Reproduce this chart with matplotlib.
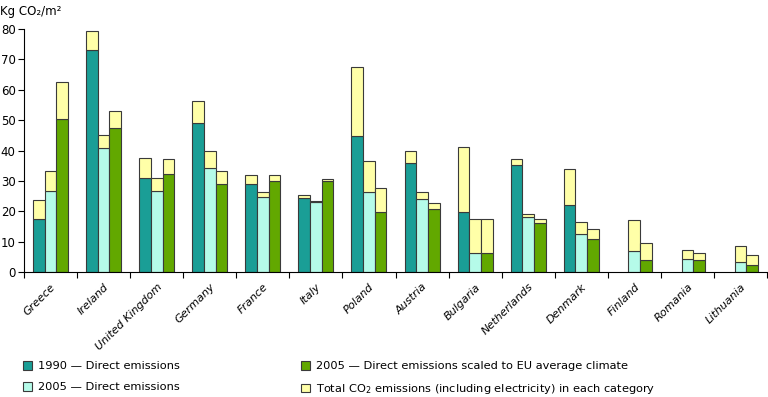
import matplotlib
matplotlib.use('Agg')
import matplotlib.pyplot as plt
import numpy as np
from matplotlib.patches import Patch

countries = ['Greece', 'Ireland', 'United Kingdom', 'Germany', 'France', 'Italy', 'Poland',
             'Austria', 'Bulgaria', 'Netherlands', 'Denmark', 'Finland', 'Romania', 'Lithuania']

nan = np.nan
direct_1990 = [17.6, 73.1, 31.1, 48.9, 29.1, 24.5, 44.8, 35.8, 19.6, 35.1, 22.0, nan, nan, nan]
total_1990 = [23.8, 79.2, 37.4, 56.2, 31.8, 25.2, 67.6, 39.8, 41.0, 37.1, 34.0, nan, nan, nan]
direct_2005 = [26.6, 40.7, 26.6, 34.3, 24.6, 23.2, 26.4, 24.0, 6.4, 18.0, 12.4, 6.8, 4.4, 3.4]
total_2005 = [33.4, 45.2, 30.9, 39.8, 26.4, 23.4, 36.4, 26.2, 17.5, 19.1, 16.5, 17.1, 7.1, 8.7]
scaled_2005 = [50.4, 47.3, 32.1, 28.9, 29.9, 29.9, 19.9, 20.8, 6.4, 16.2, 10.8, 3.8, 3.8, 2.2]
total_scaled = [62.6, 52.9, 37.1, 33.4, 31.8, 30.5, 27.5, 22.6, 17.6, 17.3, 14.1, 9.6, 6.2, 5.6]

legend_labels = ['1990 \u2014 Direct emissions',
                 '2005 \u2014 Direct emissions',
                 '2005 \u2014 Direct emissions scaled to EU average climate',
                 'Total CO$_2$ emissions (including electricity) in each category']

TEAL = '#1a9e96'
CYAN = '#b5fbe9'
GREEN = '#62a800'
YELLOW = '#ffffa8'
EDGE = '#3a3a3a'

fig = plt.figure(figsize=(7.68, 3.97), dpi=100)
ax = fig.add_axes([24 / 768, 1 - 272 / 397, 743 / 768, 243 / 397])

x = np.arange(len(countries))
w = 0.22
series = [(direct_1990, total_1990, TEAL, -w),
          (direct_2005, total_2005, CYAN, 0.0),
          (scaled_2005, total_scaled, GREEN, w)]
for direct, total, col, off in series:
    d = np.array(direct, dtype=float)
    t = np.array(total, dtype=float)
    ax.bar(x + off, d, w, color=col, edgecolor=EDGE, linewidth=0.8)
    ax.bar(x + off, t - d, w, bottom=d, color=YELLOW, edgecolor=EDGE, linewidth=0.8)

ax.set_xlim(-0.5, len(countries) - 0.5)
ax.set_ylim(0, 80)
ax.set_yticks(np.arange(0, 81, 10))
ax.tick_params(axis='y', labelsize=8.5, length=4, width=0.8, pad=2)

ax.set_xticks(x)
ax.set_xticklabels(countries, rotation=45, ha='right', rotation_mode='anchor',
                   fontsize=8, style='italic')
ax.set_xticks(np.arange(-0.5, len(countries), 1), minor=True)
ax.tick_params(axis='x', which='major', length=0, pad=7)
ax.tick_params(axis='x', which='minor', length=4, width=0.8)

for s in ['top', 'right']:
    ax.spines[s].set_visible(False)
for s in ['left', 'bottom']:
    ax.spines[s].set_linewidth(0.8)

fig.text(0, 1 - 12 / 397, 'Kg CO\u2082/m\u00b2', fontsize=8.5, va='center', ha='left')

handles = [Patch(facecolor=c, edgecolor=EDGE, linewidth=0.8) for c in [TEAL, CYAN, GREEN, YELLOW]]
fig.legend(handles, legend_labels, ncol=2, loc='upper left',
           bbox_to_anchor=(23 / 768, 1 - 361 / 397), frameon=False, fontsize=8.2,
           handlelength=0.8, handleheight=0.8, handletextpad=0.55,
           labelspacing=0.93, columnspacing=10.6, borderpad=0, borderaxespad=0)

fig.savefig('out.png', dpi=100)
